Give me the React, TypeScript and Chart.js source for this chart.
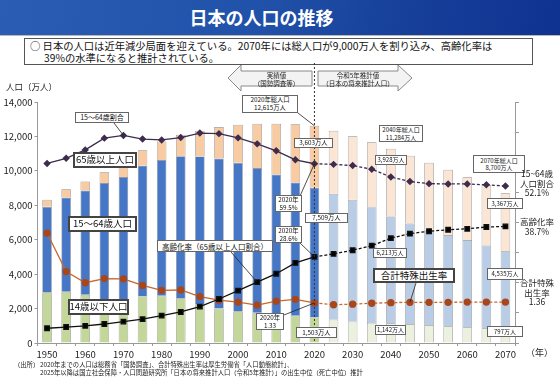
import React, { useEffect, useRef } from "react";
import { Chart, registerables } from "chart.js";

Chart.register(...registerables);

// ---------------- data ----------------
const years = [1950, 1955, 1960, 1965, 1970, 1975, 1980, 1985, 1990, 1995, 2000, 2005, 2010, 2015, 2020, 2025, 2030, 2035, 2040, 2045, 2050, 2055, 2060, 2065, 2070];
const young = [2943, 2980, 2807, 2553, 2482, 2722, 2751, 2603, 2249, 2001, 1847, 1752, 1680, 1589, 1503, 1363, 1240, 1169, 1142, 1103, 1041, 972, 908, 856, 797];
const working = [4966, 5473, 6047, 6744, 7157, 7581, 7883, 8251, 8590, 8716, 8622, 8409, 8103, 7728, 7509, 7310, 7076, 6722, 6213, 5832, 5540, 5304, 5078, 4809, 4535];
const elderly = [411, 475, 535, 624, 739, 887, 1065, 1247, 1489, 1826, 2204, 2576, 2948, 3387, 3603, 3653, 3696, 3773, 3928, 3945, 3888, 3790, 3644, 3529, 3367];
const workingShare = [59.6, 61.3, 64.1, 68.0, 68.9, 67.7, 67.4, 68.2, 69.7, 69.5, 68.1, 66.1, 63.8, 60.8, 59.5, 59.3, 58.9, 57.7, 55.1, 53.6, 52.9, 52.8, 52.8, 52.5, 52.1];
const agingRate = [4.9, 5.3, 5.7, 6.3, 7.1, 7.9, 9.1, 10.3, 12.1, 14.6, 17.4, 20.2, 23.0, 26.6, 28.6, 29.6, 30.8, 32.3, 34.8, 36.3, 37.1, 37.6, 37.9, 38.5, 38.7];
const tfr = [3.65, 2.37, 2.0, 2.14, 2.13, 1.91, 1.75, 1.76, 1.54, 1.42, 1.36, 1.26, 1.39, 1.45, 1.33, 1.27, 1.29, 1.32, 1.34, 1.35, 1.35, 1.35, 1.36, 1.36, 1.36];
const lastActualYear = 2020;
const popMax = 14000;
const popStep = 2000;
const pctMax = 80;
const tfrMax = 8;

// ---------------- styles ----------------
const FONT = "'Noto Sans CJK JP', 'Noto Sans', sans-serif";
const lastIdx = years.indexOf(lastActualYear);
const isPast = (i: number) => i <= lastIdx;
const colYoung = years.map((_, i) => (isPast(i) ? "#c4d79b" : "#ebf1de"));
const colWorking = years.map((_, i) => (isPast(i) ? "#4677c6" : "#b9cde6"));
const colElderly = years.map((_, i) => (isPast(i) ? "#f8cba3" : "#fbe6d6"));
const dashAfter = (ctx: any) => (ctx.p0DataIndex >= lastIdx ? [3, 2] : undefined);

type Box = { lines: string[]; x: number; y: number; w: number; h: number; size: number; bw?: number; weight?: number };
const boxes: Box[] = [
  { lines: ["15～64歳割合"], x: 75, y: 112, w: 54, h: 11, size: 7 },
  { lines: ["65歳以上人口"], x: 73, y: 152, w: 64, h: 16, size: 9.5, bw: 2 },
  { lines: ["15～64歳人口"], x: 68, y: 216, w: 69, h: 16, size: 9.5, bw: 2 },
  { lines: ["14歳以下人口"], x: 68, y: 299, w: 61, h: 16, size: 9.5, bw: 2 },
  { lines: ["高齢化率（65歳以上人口割合）"], x: 157, y: 240, w: 116, h: 12, size: 7.5 },
  { lines: ["合計特殊出生率"], x: 373, y: 268, w: 82, h: 15, size: 9.5, bw: 2 },
  { lines: ["2020年総人口", "12,615万人"], x: 242, y: 95, w: 56, h: 18, size: 6.3 },
  { lines: ["3,603万人"], x: 294, y: 138, w: 39, h: 10, size: 6.3 },
  { lines: ["2020年", "59.5%"], x: 275, y: 195, w: 27, h: 17, size: 6.3 },
  { lines: ["2020年", "28.6%"], x: 275, y: 226, w: 27, h: 17, size: 6.3 },
  { lines: ["7,509万人"], x: 305, y: 213, w: 43, h: 10, size: 6.3 },
  { lines: ["2020年", "1.33"], x: 256, y: 313, w: 28, h: 17, size: 6.3 },
  { lines: ["1,503万人"], x: 296, y: 327, w: 41, h: 11, size: 6.3 },
  { lines: ["2040年総人口", "11,284万人"], x: 379, y: 125, w: 44, h: 17, size: 6 },
  { lines: ["3,928万人"], x: 375, y: 155, w: 32, h: 10, size: 6 },
  { lines: ["6,213万人"], x: 373, y: 248, w: 34, h: 10, size: 6 },
  { lines: ["1,142万人"], x: 375, y: 325, w: 31, h: 10, size: 6 },
  { lines: ["2070年総人口", "8,700万人"], x: 473, y: 155, w: 52, h: 18, size: 6 },
  { lines: ["3,367万人"], x: 487, y: 198, w: 36, h: 11, size: 6 },
  { lines: ["4,535万人"], x: 487, y: 268, w: 36, h: 12, size: 6 },
  { lines: ["797万人"], x: 487, y: 326, w: 36, h: 11, size: 6 },
];

type Side = { lines: string[]; x: number; y: number };
const sideLabels: Side[] = [
  { lines: ["15~64歳", "人口割合", "52.1%"], x: 537, y: 169 },
  { lines: ["高齢化率", "38.7%"], x: 537, y: 217 },
  { lines: ["合計特殊", "出生率", "1.36"], x: 537, y: 278 },
];

// leaders: start pixel, end at data point (dataset key, year)
type Leader = { from: [number, number]; series: "share" | "aging" | "tfr" | "total"; year: number; t?: number };
const leaders: Leader[] = [
  { from: [114, 123], series: "share", year: 1970 },
  { from: [231, 252], series: "aging", year: 2005 },
  { from: [298, 113], series: "total", year: 2020 },
  { from: [300, 196], series: "share", year: 2020 },
  { from: [300, 243], series: "aging", year: 2020 },
  { from: [284, 315], series: "tfr", year: 2020 },
  { from: [416, 283], series: "tfr", year: 2045 },
];

const decorPlugin = {
  id: "decor",
  afterDatasetsDraw(chart: any) {
    const { ctx, scales } = chart;
    const x = scales.x, y = scales.y, y1 = scales.y1, y2 = scales.y2;
    ctx.save();
    // dashed divider at last actual year
    const xd = x.getPixelForValue(lastIdx);
    ctx.strokeStyle = "#333";
    ctx.lineWidth = 1;
    ctx.setLineDash([2, 2]);
    ctx.beginPath();
    ctx.moveTo(xd, 63);
    ctx.lineTo(xd, y.getPixelForValue(0));
    ctx.stroke();
    ctx.setLineDash([]);
    // leaders
    ctx.strokeStyle = "#222";
    ctx.lineWidth = 0.8;
    leaders.forEach((l) => {
      const i = years.indexOf(l.year);
      const px = x.getPixelForValue(i);
      let py = 0;
      if (l.series === "share") py = y1.getPixelForValue(workingShare[i]);
      else if (l.series === "aging") py = y1.getPixelForValue(agingRate[i]);
      else if (l.series === "tfr") py = y2.getPixelForValue(tfr[i]);
      else py = y.getPixelForValue(young[i] + working[i] + elderly[i]);
      ctx.beginPath();
      ctx.moveTo(l.from[0], l.from[1]);
      ctx.lineTo(px, py);
      ctx.stroke();
    });
    // arrows
    ctx.fillStyle = "#f3f3f3";
    ctx.strokeStyle = "#8a8a8a";
    ctx.lineWidth = 1;
    const arrow = (pts: number[][]) => {
      ctx.beginPath();
      pts.forEach((p, k) => (k === 0 ? ctx.moveTo(p[0], p[1]) : ctx.lineTo(p[0], p[1])));
      ctx.closePath();
      ctx.fill();
      ctx.stroke();
    };
    arrow([[228, 78], [241, 65], [241, 71], [312, 71], [312, 86], [241, 86], [241, 91]]);
    arrow([[412, 78], [398, 65], [398, 71], [318, 71], [318, 86], [398, 86], [398, 91]]);
    ctx.restore();
  },
};

export default function App() {
  const ref = useRef<HTMLCanvasElement>(null);
  useEffect(() => {
    document.body.style.margin = "0";
    const c = ref.current!;
    const chart = new Chart(c, {
      type: "bar",
      data: {
        labels: years.map(String),
        datasets: [
          { type: "line", label: "15～64歳割合", data: workingShare, yAxisID: "y1", borderColor: "#3d2c4e", backgroundColor: "#3d2c4e", borderWidth: 1.3, pointStyle: "rectRot", pointRadius: 2.8, segment: { borderDash: dashAfter }, order: 0 } as any,
          { type: "line", label: "高齢化率", data: agingRate, yAxisID: "y1", borderColor: "#111", backgroundColor: "#000", borderWidth: 1.3, pointStyle: "rect", pointRadius: 3.2, segment: { borderDash: dashAfter }, order: 0 } as any,
          { type: "line", label: "合計特殊出生率", data: tfr, yAxisID: "y2", borderColor: "#c8662e", backgroundColor: "#a9461a", pointBorderColor: "#a9461a", borderWidth: 1.3, pointStyle: "circle", pointRadius: 3, segment: { borderDash: dashAfter }, order: 0 } as any,
          { label: "14歳以下人口", data: young, stack: "p", yAxisID: "y", backgroundColor: colYoung, borderColor: "#8c8c8c", borderWidth: 0.7, barPercentage: 0.5, categoryPercentage: 1, order: 1 },
          { label: "15～64歳人口", data: working, stack: "p", yAxisID: "y", backgroundColor: colWorking, borderColor: "#8c8c8c", borderWidth: 0.7, barPercentage: 0.5, categoryPercentage: 1, order: 1 },
          { label: "65歳以上人口", data: elderly, stack: "p", yAxisID: "y", backgroundColor: colElderly, borderColor: "#8c8c8c", borderWidth: 0.7, barPercentage: 0.5, categoryPercentage: 1, order: 1 },
        ],
      },
      options: {
        animation: false,
        responsive: false,
        maintainAspectRatio: false,
        layout: { padding: { top: 102, left: 0, right: 0, bottom: 0 } },
        plugins: { legend: { display: false }, tooltip: { enabled: false } },
        scales: {
          x: {
            stacked: true,
            offset: true,
            grid: { display: true, drawOnChartArea: false, tickLength: 3, color: "#999", offset: true },
            border: { color: "#999" },
            ticks: {
              autoSkip: false,
              maxRotation: 0,
              padding: 3,
              color: "#222",
              font: { family: FONT, size: 9.5 },
              callback: (_v: any, i: number) => (years[i] % 10 === 0 ? String(years[i]) : ""),
            },
            afterFit: (a: any) => { a.height = 43; },
          },
          y: {
            stacked: true,
            min: 0,
            max: popMax,
            grid: { display: true, drawOnChartArea: false, tickLength: 3, color: "#999" },
            border: { color: "#999" },
            ticks: { stepSize: popStep, padding: 2, color: "#222", font: { family: FONT, size: 9.5 }, callback: (v: any) => Number(v).toLocaleString("en-US") },
            afterFit: (a: any) => { a.width = 37.5; },
          },
          y1: {
            position: "right",
            min: 0,
            max: pctMax,
            grid: { display: true, drawOnChartArea: false, tickLength: 4, color: "#999" },
            border: { color: "#999" },
            ticks: { stepSize: 10, display: false },
            afterFit: (a: any) => { a.width = 45; },
          },
          y2: { display: false, min: 0, max: tfrMax },
        },
      },
      plugins: [decorPlugin],
    } as any);
    return () => chart.destroy();
  }, []);

  const abs = (extra: any): any => ({ position: "absolute", fontFamily: FONT, ...extra });

  return (
    <div style={{ position: "relative", width: 560, height: 386, background: "#fff", overflow: "hidden", fontFamily: FONT }}>
      <div style={abs({ left: 0, top: 0, width: 560, height: 35, background: "linear-gradient(100deg, #2b5db4 0%, #2152aa 45%, #17419b 70%, #0f3290 100%)", borderBottom: "1.5px solid #b8b8b8" })} />
      <div style={abs({ left: 0, top: 6, width: 523, textAlign: "center", color: "#fff", fontSize: 18, fontWeight: 700, lineHeight: "22px" })}>日本の人口の推移</div>
      <div style={abs({ left: 24, top: 38, width: 509, height: 27, border: "1px solid #555", boxSizing: "border-box", background: "#fff" })} />
      <div style={abs({ left: 30, top: 40, fontSize: 10.3, lineHeight: "12px", color: "#111", whiteSpace: "nowrap" })}>
        ○ 日本の人口は近年減少局面を迎えている。2070年には総人口が9,000万人を割り込み、高齢化率は
        <br />
        <span style={{ paddingLeft: 14 }}>39%の水準になると推計されている。</span>
      </div>
      <canvas ref={ref} width={560} height={386} style={{ position: "absolute", left: 0, top: 0, width: 560, height: 386 }} />
      <div style={abs({ left: 6, top: 80, fontSize: 8.5, color: "#222", whiteSpace: "nowrap" })}>人口（万人）</div>
      <div style={abs({ left: 526, top: 346, fontSize: 9, color: "#222", whiteSpace: "nowrap" })}>（年）</div>
      <div style={abs({ left: 241, top: 72, width: 71, textAlign: "center", fontSize: 6.5, lineHeight: "7.5px", color: "#222", whiteSpace: "nowrap" })}>実績値<br />（国勢調査等）</div>
      <div style={abs({ left: 318, top: 72, width: 80, textAlign: "center", fontSize: 6.5, lineHeight: "7.5px", color: "#222", whiteSpace: "nowrap" })}>令和5年推計値<br />（日本の将来推計人口）</div>
      {boxes.map((b, k) => (
        <div key={k} style={abs({ left: b.x, top: b.y, width: b.w, height: b.h, boxSizing: "border-box", border: `${b.bw || 1}px solid ${b.bw ? "#444" : "#666"}`, background: "#fff", display: "flex", flexDirection: "column", alignItems: "center", justifyContent: "center", fontSize: b.size, lineHeight: `${b.size * 1.2}px`, color: "#111", whiteSpace: "nowrap" })}>
          {b.lines.map((t, j) => (<div key={j}>{t}</div>))}
        </div>
      ))}
      {sideLabels.map((s, k) => (
        <div key={k} style={abs({ left: s.x - 25, top: s.y, width: 50, textAlign: "center", fontSize: 8.5, lineHeight: "9.5px", color: "#222", whiteSpace: "nowrap" })}>
          {s.lines.map((t, j) => (<div key={j}>{t}</div>))}
        </div>
      ))}
      <div style={abs({ left: 14, top: 361, fontSize: 6.3, lineHeight: "8px", color: "#222", whiteSpace: "nowrap" })}>（出所）</div>
      <div style={abs({ left: 40, top: 361, fontSize: 6.3, lineHeight: "8px", color: "#222", whiteSpace: "nowrap" })}>
        2020年までの人口は総務省「国勢調査」、合計特殊出生率は厚生労働省「人口動態統計」、
        <br />
        2025年以降は国立社会保障・人口問題研究所「日本の将来推計人口（令和5年推計）」の出生中位（死亡中位）推計
      </div>
    </div>
  );
}
